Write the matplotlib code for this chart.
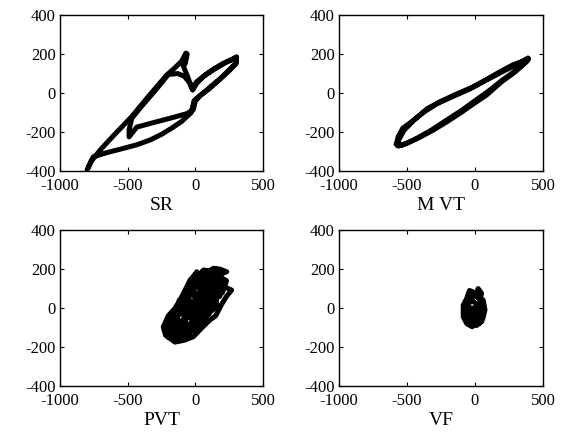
import matplotlib
matplotlib.use("Agg")
matplotlib.rcParams["font.family"] = ["Liberation Serif", "DejaVu Serif"]
matplotlib.rcParams["axes.unicode_minus"] = False
import matplotlib.pyplot as plt

# traced trajectories
sr_x = [-800, -770, -700, -600, -470, -350, -212, -150, -100, -70, -60, -75, -90, -60, -35, -20,
        10, 70, 133, 200, 260, 305, 300, 250, 195, 108, 34, 0, -15, -60, -163, -300, -433,
        -490, -490, -470, -400, -300, -200, -130, -80, -40, -25, 10, 60, 140, 232, 300, 300, 240,
        180, 100, 30, -10, -30, -100, -170, -250, -335, -430, -532, -650, -754, -790]
sr_y = [-395, -350, -290, -215, -121, -20, 92, 130, 165, 205, 200, 150, 140, 90, 40, 15,
        50, 92, 122, 150, 168, 186, 155, 115, 80, 30, -15, -40, -85, -105, -125, -150, -175,
        -225, -190, -130, -70, 10, 95, 100, 85, 50, 25, 58, 85, 122, 160, 182, 150, 112,
        70, 20, -15, -40, -100, -145, -178, -212, -241, -265, -284, -305, -327, -380]

mvt_x = [-570, -560, -520, -450, -350, -257, -150, -12, 100, 184, 280, 360, 390, 385, 330, 282,
         200, 86, -20, -110, -200, -306, -400, -478, -540, -575, -565, -530, -470, -380, -280,
         -170, -40, 80, 190, 290, 370, 395, 370, 300, 200, 100, 0, -100, -210, -320, -420, -500,
         -560, -580]
mvt_y = [-270, -240, -190, -140, -80, -45, -10, 32, 75, 109, 145, 165, 180, 165, 130, 101,
         60, -10, -60, -104, -145, -190, -225, -250, -268, -255, -225, -180, -150, -100, -55,
         -20, 20, 65, 105, 140, 170, 175, 155, 115, 65, 10, -40, -90, -140, -190, -230, -258,
         -272, -262]

pvt_x = [-150, -220, -237, -200, -150, -113, -70, -39, 0, 40, 60, 80, 133, 180, 232, 190, 170,
         210, 268, 230, 195, 150, 108, 50, -15, -80, -138, -180, -150, -100, -60, -20, 20, 70,
         110, 150, 160, 110, 60, 0, -60, -120, -190, -170, -120, -80, -40, 10, 50, 100, 140, 120,
         80, 30, -30, -90, -160, -130, -60, 0, 60, 100, 40, -20, -90, -130, -100, -40, 20, 80,
         130, 200, 230, 160, 110, 60, 0, -60, -120, -200, -215, -160, -100, -40, 20, 90, 150,
         180, 140,
         -200, -230, -160, -210, -100, -170, -40, -120, 20, -80, 60, -40, 100, 0, 140, 40, 180,
         90, 210, 150, 120, 200, 60, 170, 10, 130, -30, 90, -80, 40, -130, -20, -190, -90, -200,
         -140]
pvt_y = [-175, -140, -96, -40, 0, 41, 100, 144, 175, 160, 120, 180, 204, 200, 186, 175, 140,
         110, 92, 60, 20, -40, -61, -100, -147, -165, -173, -130, -60, -10, 40, 90, 130, 140,
         100, 60, 10, -20, -60, -100, -130, -150, -110, -50, 20, 60, 120, 186, 150, 150, 120, 60,
         0, -40, -80, -100, -100, -40, 0, 40, 60, 40, 0, -40, -60, -100, -150, -120, -70, -30,
         30, 80, 140, 170, 190, 195, 150, 80, 20, -60, -120, -160, -150, -110, -40, 30, 100,
         150, 130,
         -150, -110, -150, -60, -160, -20, -140, 40, -110, 80, -70, 120, -30, 150, 10, 170, 60,
         190, 130, 200, 20, 150, -40, 100, -80, 40, -120, 0, -150, -40, -170, -80, -100, -130,
         -60, -90]

vf_x = [-20, -60, -86, -86, -60, -40, -20, 0, 24, 49, 40, 61, 74, 60, 49, 10, -30, -60, -50,
        -20, 10, 40, 30, 0, -40, -30, 0, 20, -10, -50, -70, -40, 0, 30, 50, 20, -20, -60,
        -70, -80, -50, -10, 20, 50, 60, 30, -10, -50]
vf_y = [-96, -80, -45, 15, 50, 90, 85, 60, 100, 75, 50, 41, -10, -50, -70, -90, -70, -30, 20,
        40, 20, 0, -40, -60, -40, 0, 0, -20, -30, -10, -60, -85, -75, -30, 30, 60, 70, 30,
        -60, 0, 60, 70, 60, 20, -30, -80, -80, -50]

panels = [("SR", sr_x, sr_y), ("M VT", mvt_x, mvt_y), ("PVT", pvt_x, pvt_y), ("VF", vf_x, vf_y)]
positions = [[0.1066, 0.6096, 0.3606, 0.356], [0.602, 0.6096, 0.3623, 0.356],
             [0.1066, 0.1187, 0.3606, 0.356], [0.602, 0.1187, 0.3623, 0.356]]

fig = plt.figure(figsize=(5.63, 4.38), dpi=100)
for (label, xs, ys), pos in zip(panels, positions):
    ax = fig.add_axes(pos)
    ax.plot(xs, ys, color="black", linewidth=3.6, solid_joinstyle="round", solid_capstyle="round")
    ax.set_xlim(-1000, 500)
    ax.set_ylim(-400, 400)
    ax.set_xticks([-1000, -500, 0, 500])
    ax.set_yticks([-400, -200, 0, 200, 400])
    ax.tick_params(direction="in", top=True, right=True, length=3, labelsize=12)
    ax.tick_params(axis="x", pad=5)
    ax.tick_params(axis="y", pad=3)
    ax.set_xlabel(label, fontsize=14, labelpad=2)
    for s in ax.spines.values():
        s.set_linewidth(1.0)

fig.savefig("out.png", dpi=100)
